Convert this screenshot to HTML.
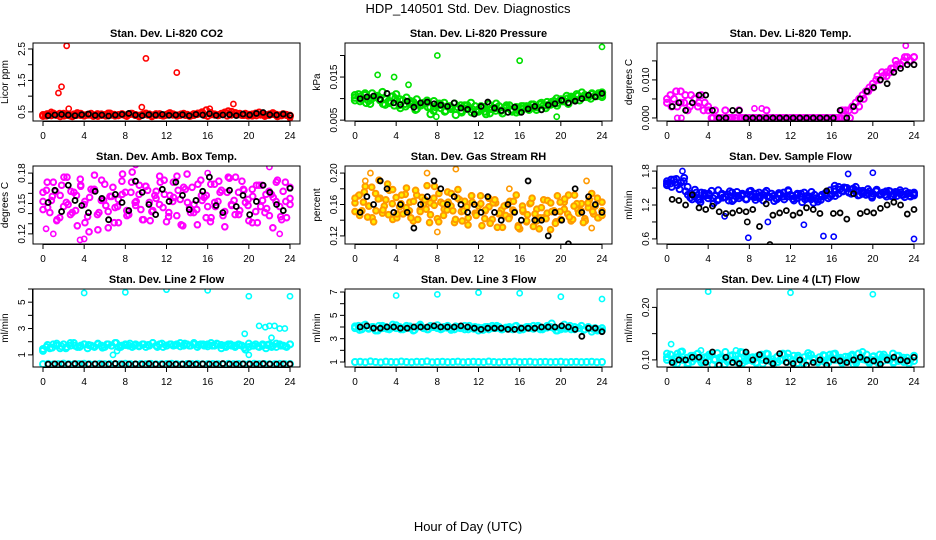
<!DOCTYPE html>
<html><head><meta charset="utf-8">
<style>
html,body{margin:0;padding:0;background:#fff;}
svg{display:block;font-family:"Liberation Sans",Arial,sans-serif;}
</style></head>
<body>
<svg id="chart" width="936" height="540" viewBox="0 0 936 540">
<text x="468" y="13" text-anchor="middle" font-size="13">HDP_140501  Std. Dev. Diagnostics</text>
<text x="468" y="531" text-anchor="middle" font-size="13">Hour of Day (UTC)</text>
</svg>
<script>
// ---- data arrays ----
const xTicks = [0,4,8,12,16,20,24];

const co2Cloud = [0.40,0.38,0.42,0.45,0.40,0.36,0.44,0.40,0.38,0.42,0.46,0.40,0.38,0.41,0.44,0.39,0.37,0.42,0.40,0.45,0.41,0.38,0.40,0.43,0.39,0.42,0.44,0.40,0.36,0.41,0.45,0.42,0.39,0.40,0.43,0.38,0.41,0.46,0.42,0.39,0.40,0.44,0.41,0.38,0.40,0.43,0.45,0.40,0.37,0.42,0.41,0.39,0.44,0.48,0.52,0.50,0.46,0.42,0.40,0.44,0.41,0.38,0.45,0.48,0.43,0.40,0.42,0.46,0.41,0.39,0.43,0.40,0.37];
const co2Cloud2 = [0.37,0.43,0.39,0.41,0.44,0.38,0.42,0.36,0.40,0.44,0.39,0.41,0.37,0.43,0.40,0.38,0.45,0.41,0.39,0.42,0.37,0.44,0.40,0.38,0.42,0.41,0.36,0.43,0.40,0.39,0.44,0.41,0.38,0.42,0.40,0.37,0.43,0.45,0.49,0.55,0.47,0.42,0.40,0.43,0.38,0.41,0.46,0.44,0.40,0.38,0.42,0.39,0.41,0.37,0.40,0.43,0.36,0.39,0.41,0.38];
const co2Black = [0.38,0.40,0.42,0.40,0.38,0.41,0.43,0.39,0.40,0.37,0.40,0.42,0.45,0.40,0.38,0.41,0.40,0.42,0.39,0.40,0.41,0.38,0.42,0.40,0.44,0.39,0.40,0.41,0.38,0.43,0.40,0.45,0.48,0.41,0.40,0.43,0.39];
const co2OutX = [2.3,1.5,1.8,2.5,10.0,13.0,9.6,18.5,16.2,0.8,0.2,24.0];
const co2OutY = [2.6,1.1,1.3,0.6,2.2,1.75,0.65,0.75,0.6,0.5,0.38,0.3];

const presCloud = [0.0102,0.0110,0.0098,0.0108,0.0095,0.0112,0.0104,0.0100,0.0115,0.0098,0.0090,0.0105,0.0110,0.0085,0.0096,0.0102,0.0088,0.0092,0.0098,0.0084,0.0090,0.0095,0.0080,0.0094,0.0086,0.0078,0.0090,0.0082,0.0076,0.0088,0.0080,0.0072,0.0084,0.0078,0.0068,0.0082,0.0075,0.0080,0.0070,0.0086,0.0076,0.0072,0.0082,0.0066,0.0078,0.0084,0.0074,0.0080,0.0070,0.0076,0.0082,0.0078,0.0086,0.0080,0.0088,0.0084,0.0092,0.0086,0.0094,0.0090,0.0098,0.0094,0.0100,0.0104,0.0098,0.0106,0.0102,0.0108,0.0104,0.0110,0.0106,0.0112,0.0108];
const presCloud2 = [0.0096,0.0104,0.0090,0.0100,0.0106,0.0088,0.0094,0.0084,0.0098,0.0082,0.0090,0.0076,0.0086,0.0080,0.0072,0.0088,0.0070,0.0082,0.0076,0.0068,0.0084,0.0074,0.0070,0.0080,0.0066,0.0078,0.0072,0.0084,0.0070,0.0076,0.0082,0.0074,0.0080,0.0086,0.0078,0.0090,0.0084,0.0094,0.0088,0.0098,0.0096,0.0104,0.0100,0.0108,0.0104];
const presCloud3 = [0.0108,0.0094,0.0112,0.0088,0.0104,0.0096,0.0086,0.0092,0.0100,0.0078,0.0088,0.0094,0.0074,0.0084,0.0090,0.0064,0.0080,0.0086,0.0072,0.0078,0.0062,0.0084,0.0076,0.0090,0.0070,0.0082,0.0064,0.0076,0.0088,0.0072,0.0080,0.0074,0.0068,0.0082,0.0078,0.0086,0.0074,0.0090,0.0084,0.0092,0.0100,0.0096,0.0106,0.0100,0.0110,0.0114,0.0104,0.0112,0.0106,0.0114];
const presBlack = [0.0100,0.0104,0.0106,0.0098,0.0112,0.0090,0.0086,0.0094,0.0080,0.0090,0.0092,0.0088,0.0085,0.0082,0.0090,0.0078,0.0075,0.0064,0.0082,0.0092,0.0078,0.0072,0.0068,0.0080,0.0068,0.0076,0.0082,0.0074,0.0085,0.0088,0.0096,0.0090,0.0094,0.0100,0.0108,0.0104,0.0112];
const presOutX = [8,16,24,2.2,3.8,5.2,7.9,19.6];
const presOutY = [0.0200,0.0188,0.0220,0.0155,0.0150,0.0132,0.0058,0.0058];

const tempCloud = [0.004,0.006,0.005,0.003,0.007,0.004,0.002,0.006,0.005,0.003,0.006,0.004,0.002,0,0.002,0,0,0.002,0,0,0,0.002,0,0,0,0,0,0,0,0.002,0,0,0,0,0,0,0,0,0,0,0,0,0,0,0,0,0,0,0,0,0,0.002,0.002,0.002,0.003,0.004,0.005,0.006,0.007,0.008,0.009,0.010,0.010,0.011,0.012,0.012,0.013,0.014,0.014,0.015,0.016,0.015,0.016];
const tempCloud2 = [0.005,0.003,0.007,0.004,0.006,0.003,0.005,0.004,0.002,0.003,0,0,0,0,0,0,0,0,0,0,0,0,0,0,0,0,0,0,0,0,0,0,0,0,0,0,0,0,0,0,0,0.002,0.003,0.005,0.007,0.008,0.011,0.012,0.011,0.013,0.015,0.014,0.016,0.015,0.016];
const tempBlack = [0.003,0.004,0.002,0.004,0.006,0.006,0.002,0,0,0.002,0.002,0,0,0,0,0,0,0,0,0,0,0,0,0,0,0.002,0,0.003,0.005,0.007,0.008,0.010,0.009,0.012,0.013,0.014,0.014];
const tempOutX = [1.0,1.4,8.5,9.2,23.2];
const tempOutY = [0,0,0.0025,0.0025,0.0190];

const ambCloud = [0.152,0.163,0.141,0.171,0.133,0.158,0.147,0.176,0.139,0.161,0.128,0.168,0.149,0.137,0.164,0.178,0.124,0.153,0.169,0.142,0.157,0.146,0.131,0.172,0.161,0.139,0.181,0.148,0.159,0.134,0.167,0.151,0.143,0.162,0.177,0.146,0.132,0.158,0.171,0.138,0.154,0.166,0.179,0.141,0.149,0.129,0.173,0.156,0.147,0.136,0.169,0.152,0.163,0.127,0.176,0.148,0.139,0.161,0.172,0.151,0.133,0.164,0.142,0.168,0.153,0.159,0.138,0.126,0.171,0.147,0.162,0.136,0.155];
const ambCloud2 = [0.144,0.171,0.153,0.162,0.136,0.176,0.149,0.141,0.158,0.167,0.152,0.122,0.163,0.139,0.173,0.148,0.157,0.131,0.154,0.179,0.143,0.161,0.151,0.168,0.134,0.163,0.142,0.155,0.171,0.159,0.137,0.152,0.177,0.129,0.164,0.146,0.141,0.169,0.153,0.158,0.132,0.151,0.172,0.138,0.161,0.149,0.176,0.143,0.163,0.154,0.131,0.168,0.147,0.141,0.162,0.156,0.173,0.134,0.152,0.166];
const ambCloud3 = [0.161,0.146,0.157,0.134,0.168,0.151,0.162,0.143,0.174,0.131,0.156,0.164,0.141,0.153,0.126,0.166,0.147,0.159,0.138,0.171,0.152,0.144,0.167,0.133,0.158,0.149,0.173,0.141,0.156,0.163,0.128,0.151,0.166,0.144,0.158,0.136,0.169,0.147,0.161,0.142,0.175,0.153,0.139,0.164,0.148,0.157,0.131,0.168,0.145,0.159,0.152,0.137,0.171,0.149];
const ambBlack = [0.151,0.163,0.142,0.168,0.153,0.148,0.141,0.162,0.155,0.134,0.159,0.151,0.143,0.172,0.161,0.149,0.139,0.164,0.152,0.171,0.158,0.144,0.153,0.162,0.176,0.148,0.141,0.163,0.147,0.158,0.139,0.152,0.168,0.161,0.149,0.143,0.165];
const ambOutX = [1,4,9,16,23,22,0.3,3.6];
const ambOutY = [0.12,0.115,0.188,0.18,0.12,0.186,0.125,0.114];

const rhCloud = [0.162,0.171,0.152,0.183,0.158,0.143,0.174,0.191,0.149,0.166,0.178,0.141,0.169,0.157,0.148,0.181,0.163,0.139,0.172,0.153,0.161,0.184,0.147,0.168,0.142,0.163,0.154,0.176,0.158,0.137,0.179,0.151,0.164,0.143,0.171,0.149,0.158,0.133,0.152,0.168,0.141,0.162,0.148,0.131,0.159,0.144,0.153,0.172,0.129,0.151,0.138,0.161,0.132,0.154,0.143,0.166,0.149,0.128,0.152,0.171,0.141,0.163,0.148,0.139,0.172,0.153,0.161,0.142,0.156,0.174,0.158,0.143,0.152];
const rhCloud2 = [0.151,0.172,0.163,0.144,0.182,0.152,0.168,0.158,0.147,0.179,0.143,0.161,0.173,0.152,0.164,0.141,0.169,0.154,0.162,0.183,0.138,0.161,0.153,0.174,0.141,0.166,0.152,0.134,0.163,0.149,0.171,0.142,0.157,0.162,0.131,0.153,0.146,0.164,0.151,0.133,0.158,0.139,0.162,0.148,0.129,0.143,0.165,0.151,0.138,0.163,0.154,0.172,0.141,0.161,0.152,0.139,0.166,0.148,0.143,0.163];
const rhCloud3 = [0.168,0.146,0.176,0.158,0.138,0.167,0.153,0.186,0.161,0.148,0.172,0.156,0.143,0.178,0.151,0.166,0.137,0.159,0.174,0.146,0.163,0.152,0.168,0.139,0.157,0.171,0.146,0.161,0.153,0.136,0.166,0.149,0.158,0.142,0.164,0.131,0.153,0.147,0.168,0.139,0.156,0.142,0.162,0.136,0.151,0.167,0.144,0.158,0.149,0.137,0.162,0.151,0.168,0.146];
const rhBlack = [0.15,0.17,0.16,0.19,0.18,0.15,0.16,0.15,0.13,0.16,0.17,0.19,0.18,0.16,0.17,0.16,0.15,0.16,0.15,0.17,0.15,0.14,0.16,0.15,0.14,0.19,0.14,0.14,0.12,0.15,0.14,0.11,0.18,0.15,0.17,0.16,0.15];
const rhOutX = [1.5,1.0,7.0,9.8,15.0,22.5,23.0,8.0];
const rhOutY = [0.200,0.190,0.200,0.205,0.180,0.190,0.130,0.125];

const flowCloud = [1.62,1.58,1.65,1.55,1.60,1.68,1.52,1.40,1.35,1.30,1.42,1.38,1.32,1.45,1.36,1.30,1.40,1.34,1.28,1.42,1.36,1.32,1.38,1.30,1.44,1.35,1.40,1.32,1.38,1.45,1.34,1.36,1.30,1.40,1.42,1.35,1.38,1.28,1.40,1.35,1.42,1.32,1.30,1.38,1.26,1.35,1.40,1.32,1.38,1.36,1.40,1.45,1.50,1.42,1.48,1.52,1.45,1.40,1.38,1.44,1.40,1.46,1.38,1.42,1.35,1.44,1.40,1.36,1.42,1.38,1.40,1.35,1.42];
const flowCloud2 = [1.55,1.65,1.60,1.48,1.62,1.38,1.30,1.42,1.25,1.36,1.40,1.32,1.28,1.38,1.34,1.44,1.30,1.36,1.40,1.30,1.38,1.34,1.42,1.28,1.36,1.40,1.32,1.38,1.30,1.44,1.36,1.32,1.40,1.30,1.35,1.24,1.30,1.38,1.42,1.35,1.48,1.52,1.44,1.50,1.40,1.45,1.38,1.42,1.48,1.36,1.44,1.40,1.38,1.45,1.35,1.42,1.38,1.44,1.36,1.40];
const flowCloud3 = [1.58,1.52,1.66,1.60,1.44,1.33,1.47,1.29,1.41,1.37,1.23,1.46,1.33,1.39,1.27,1.43,1.36,1.31,1.45,1.29,1.37,1.42,1.34,1.27,1.41,1.35,1.46,1.31,1.38,1.25,1.36,1.43,1.32,1.29,1.37,1.46,1.54,1.47,1.51,1.43,1.49,1.37,1.45,1.41,1.33,1.47,1.39,1.44,1.36,1.43,1.46,1.34,1.41,1.37];
const flowBlack = [1.30,1.28,1.20,1.38,1.15,1.12,1.18,1.08,1.05,1.06,1.10,1.08,1.12,0.82,1.22,1.02,1.06,1.10,1.02,1.06,1.15,1.12,1.05,1.45,1.05,1.06,0.95,1.40,1.05,1.08,1.06,1.14,1.20,1.25,1.20,1.04,1.12];
const flowOutX = [1.5,17.6,20.0,7.9,15.2,16.2,24.0,9.8,13.3,5.6,10.0,7.8];
const flowOutY = [1.80,1.75,1.77,0.62,0.65,0.64,0.60,0.90,0.85,1.00,0.50,0.90];
const flowOutC = ['b','b','b','b','b','b','b','b','b','b','k','k'];

const l2Cloud = [1.3,1.6,1.5,1.8,1.7,1.5,1.8,1.6,1.7,1.9,1.6,1.7,1.8,1.5,1.7,1.6,1.8,1.7,1.6,1.8,1.7,1.9,1.6,1.7,1.8,1.7,1.6,1.8,1.7,1.8,1.6,1.7,1.9,1.7,1.8,1.6,1.7,1.8,1.7,1.8,1.9,1.7,1.8,1.7,1.8,1.6,1.8,1.7,1.8,1.9,1.7,1.8,1.5,1.7,1.8,1.7,1.6,1.8,1.7,1.4,1.6,1.7,1.8,1.6,1.7,1.5,1.8,1.7,1.6,1.8,1.7,1.6,1.8];
const l2Cloud2 = [1.45,1.75,1.55,1.85,1.65,1.5,1.9,1.7,1.6,1.8,1.75,1.65,1.85,1.55,1.8,1.7,1.9,1.6,1.75,1.85,1.7,1.65,1.8,1.75,1.9,1.6,1.85,1.7,1.8,1.75,1.65,1.85,1.7,1.9,1.75,1.8,1.65,1.7,1.85,1.75,1.6,1.8,1.7,1.75,1.55,1.85,1.7,1.65,1.8,1.75,1.6,1.85,1.7,1.65,1.8];
const l2Low = [0.30,0.32,0.28,0.30,0.34,0.30,0.29,0.31,0.33,0.30,0.28,0.32,0.30,0.31,0.29,0.30,0.33,0.30,0.28,0.31,0.30,0.32,0.29,0.30,0.31,0.33,0.30,0.28,0.31,0.30,0.32,0.29,0.30,0.31,0.30,0.28,0.32,0.30,0.31,0.29,0.30,0.33,0.30,0.31,0.29,0.30,0.32,0.30,0.31];
const l2Black = [0.30,0.32,0.31,0.30,0.33,0.31,0.30,0.32,0.31,0.30,0.34,0.31,0.30,0.32,0.31,0.33,0.30,0.31,0.32,0.30,0.31,0.33,0.30,0.32,0.31,0.30,0.34,0.31,0.30,0.32,0.31,0.30,0.33,0.31,0.30,0.32,0.31];
const l2OutX = [4,8,12,16,20,24,19.6,21,21.6,22,22.5,23,23.5,22.2,20,6.8,7.2];
const l2OutY = [5.7,5.75,5.95,5.9,5.45,5.45,2.6,3.2,3.1,3.2,3.2,3.0,3.0,2.3,1.0,1.0,1.3];

const l3Cloud = [3.9,4.1,3.8,4.2,3.9,4.0,3.7,4.1,3.9,4.0,3.8,4.2,3.9,4.0,3.8,4.1,3.9,3.7,4.0,4.2,3.9,3.8,4.1,4.0,3.9,3.8,4.0,4.1,3.9,3.8,4.0,3.9,4.1,3.8,3.9,4.0,3.7,3.9,4.0,3.8,4.1,3.9,4.0,3.8,3.9,4.0,3.8,4.1,3.9,3.8,4.0,3.9,4.1,4.0,3.8,3.9,4.1,4.0,3.9,3.7,3.8,4.2,3.9,3.8,4.0,3.9,4.1,3.8,3.9,3.6,3.9,3.8,3.7];
const l3Cloud2 = [4.05,3.75,4.15,3.85,4.0,3.7,4.1,3.85,3.95,4.15,3.8,3.9,4.05,3.75,4.1,3.9,3.8,4.0,4.15,3.85,3.95,3.75,4.05,3.9,3.8,4.1,3.85,3.95,3.75,4.0,3.9,4.1,3.8,3.95,3.85,4.05,3.75,3.9,4.0,3.85,4.1,3.8,3.95,4.3,3.7,3.95,3.85,4.1,3.8,3.9,3.75,4.0,3.85,3.7,3.9];
const l3Low = [1.00,1.02,0.98,1.05,1.00,0.97,1.03,1.00,0.99,1.04,1.00,0.98,1.02,1.00,1.05,0.98,1.00,1.02,0.99,1.00,1.03,0.98,1.00,1.02,1.00,0.99,1.04,1.00,0.98,1.01,1.00,1.03,0.99,1.00,1.02,0.98,1.00,1.01,0.99,1.00,1.02,0.98,1.00,1.01,0.99,1.00,1.02,0.98,1.00];
const l3Black = [4.0,4.1,3.9,3.9,4.0,4.0,3.9,3.9,4.0,4.0,4.0,4.1,4.0,4.0,4.0,4.1,4.0,3.9,3.8,3.9,3.9,3.9,3.8,3.8,3.9,3.9,3.9,4.0,4.0,4.0,4.1,4.0,3.8,3.2,3.9,3.9,3.6];
const l3OutX = [4,8,12,16,20,24];
const l3OutY = [6.7,6.8,6.95,6.9,6.6,6.4];

const l4Cloud = [0.100,0.110,0.095,0.105,0.115,0.100,0.090,0.108,0.102,0.112,0.095,0.105,0.098,0.110,0.100,0.092,0.105,0.115,0.100,0.096,0.108,0.102,0.094,0.110,0.100,0.105,0.095,0.108,0.100,0.112,0.098,0.092,0.105,0.100,0.110,0.096,0.102,0.108,0.094,0.100,0.105,0.098,0.110,0.102,0.095,0.100,0.108,0.096,0.104,0.112,0.100,0.094,0.106,0.100,0.110,0.098,0.102,0.115,0.100,0.094,0.106,0.100,0.110,0.098,0.104,0.100,0.094,0.108,0.100,0.096,0.104,0.100,0.098];
const l4Cloud2 = [0.105,0.098,0.112,0.100,0.094,0.108,0.102,0.096,0.110,0.100,0.104,0.092,0.108,0.100,0.115,0.098,0.104,0.094,0.110,0.100,0.096,0.106,0.100,0.112,0.098,0.104,0.094,0.108,0.100,0.105,0.096,0.110,0.100,0.104,0.098,0.108,0.094,0.102,0.110,0.100,0.096,0.106,0.100,0.112,0.098,0.104,0.094,0.108];
const l4Cloud3 = [0.112,0.101,0.093,0.116,0.104,0.097,0.111,0.099,0.106,0.091,0.113,0.102,0.097,0.109,0.095,0.114,0.103,0.098,0.107,0.093,0.111,0.101,0.096,0.112,0.104,0.099,0.108,0.094,0.113,0.102,0.097,0.109,0.095,0.111,0.103,0.098,0.106,0.092,0.112,0.101,0.097,0.107,0.094,0.110,0.102,0.096,0.108,0.100,0.093,0.106];
const l4Black = [0.095,0.100,0.100,0.105,0.105,0.095,0.115,0.090,0.105,0.095,0.093,0.115,0.100,0.110,0.098,0.093,0.112,0.095,0.093,0.100,0.090,0.095,0.100,0.090,0.100,0.098,0.095,0.100,0.105,0.100,0.098,0.092,0.100,0.105,0.100,0.098,0.105];
const l4OutX = [4,12,20,0.4,3.3,6.7];
const l4OutY = [0.230,0.228,0.225,0.130,0.118,0.118];

// ---- panel layout ----
const colLeft = [33,345,657];
const rowTop = [43,166,289];
const W = 267, H = 78;
const NS = 'http://www.w3.org/2000/svg';
const svg = document.getElementById('chart');

const panels = [
 {name:'co2',title:'Stan. Dev. Li-820 CO2',ylab:'Licor ppm',ymin:0.21,ymax:2.69,ticks:[0.5,1,1.5,2,2.5],labels:['0.5','','1.5','','2.5'],color:'#ff0000',fill:'none',clouds:[co2Cloud,co2Cloud2],black:co2Black,ox:co2OutX,oy:co2OutY,r:3.0},
 {name:'pressure',title:'Stan. Dev. Li-820 Pressure',ylab:'kPa',ymin:0.0048,ymax:0.0229,ticks:[0.005,0.01,0.015,0.02],labels:['0.005','','0.015',''],color:'#00e000',fill:'none',clouds:[presCloud,presCloud2,presCloud3],black:presBlack,ox:presOutX,oy:presOutY,r:3.2},
 {name:'temp',title:'Stan. Dev. Li-820 Temp.',ylab:'degrees C',ymin:-0.0008,ymax:0.0197,ticks:[0,0.005,0.01,0.015],labels:['0.000','','0.010',''],color:'#ff00ff',fill:'none',clouds:[tempCloud,tempCloud2],black:tempBlack,ox:tempOutX,oy:tempOutY,r:3.0},
 {name:'amb-box',title:'Stan. Dev. Amb. Box Temp.',ylab:'degrees C',ymin:0.11,ymax:0.187,ticks:[0.12,0.13,0.14,0.15,0.16,0.17,0.18],labels:['0.12','','','0.15','','','0.18'],color:'#ff00ff',fill:'none',clouds:[ambCloud,ambCloud2,ambCloud3],black:ambBlack,ox:ambOutX,oy:ambOutY,r:2.8},
 {name:'gas-rh',title:'Stan. Dev. Gas Stream RH',ylab:'percent',ymin:0.1097,ymax:0.209,ticks:[0.12,0.14,0.16,0.18,0.2],labels:['0.12','','0.16','','0.20'],color:'#ff9900',fill:'#ffee00',clouds:[rhCloud,rhCloud2,rhCloud3],black:rhBlack,ox:rhOutX,oy:rhOutY,r:2.8},
 {name:'sample-flow',title:'Stan. Dev. Sample Flow',ylab:'ml/min',ymin:0.51,ymax:1.89,ticks:[0.6,0.9,1.2,1.5,1.8],labels:['0.6','','1.2','','1.8'],color:'#0000ff',fill:'none',clouds:[flowCloud,flowCloud2,flowCloud3],black:flowBlack,ox:flowOutX,oy:flowOutY,oc:flowOutC,r:3.0},
 {name:'line2-flow',title:'Stan. Dev. Line 2 Flow',ylab:'ml/min',ymin:0.08,ymax:6.0,ticks:[1,2,3,4,5,6],labels:['1','','3','','5',''],color:'#00ffff',fill:'none',clouds:[l2Cloud,l2Cloud2,l2Low],black:l2Black,ox:l2OutX,oy:l2OutY,r:3.0},
 {name:'line3-flow',title:'Stan. Dev. Line 3 Flow',ylab:'ml/min',ymin:0.57,ymax:7.26,ticks:[1,2,3,4,5,6,7],labels:['1','','3','','5','','7'],color:'#00ffff',fill:'none',clouds:[l3Cloud,l3Cloud2,l3Low],black:l3Black,ox:l3OutX,oy:l3OutY,r:3.0},
 {name:'line4-flow',title:'Stan. Dev. Line 4 (LT) Flow',ylab:'ml/min',ymin:0.0865,ymax:0.235,ticks:[0.1,0.15,0.2],labels:['0.10','','0.20'],color:'#00ffff',fill:'none',clouds:[l4Cloud,l4Cloud2,l4Cloud3],black:l4Black,ox:l4OutX,oy:l4OutY,r:3.0}
];

function mk(tag, attrs, parent){
  const e = document.createElementNS(NS, tag);
  for (const k in attrs) e.setAttribute(k, attrs[k]);
  (parent||svg).appendChild(e);
  return e;
}

panels.forEach((p, idx) => {
  const L = colLeft[idx % 3], T = rowTop[Math.floor(idx / 3)];
  const g = mk('g', {});
  
  
  const sx = h => L + 10 + h * 247 / 24;
  const sy = v => T + (p.ymax - v) / (p.ymax - p.ymin) * H;

  const t = mk('text', {x: L + W/2, y: T - 6, 'text-anchor':'middle', 'font-size':'11', 'font-weight':'bold'}, g);
  t.textContent = p.title;
  
  

  const yl = mk('text', {x: 0, y: 0, 'text-anchor':'middle', 'font-size':'10', transform:`translate(${L-25},${T+H/2}) rotate(-90)`}, g);
  yl.textContent = p.ylab;
  
  

  const clipId = 'clip' + idx;
  const cp = mk('clipPath', {id: clipId}, g);
  mk('rect', {x: L, y: T, width: W, height: H}, cp);
  const pts = mk('g', {'clip-path': `url(#${clipId})`}, g);
  
  

  p.clouds.forEach(arr => {
    arr.forEach((v, i) => {
      const c = mk('circle', {cx: sx(i * 24 / (arr.length - 1)), cy: sy(v), r: p.r, fill: p.fill, stroke: p.color, 'stroke-width': 2}, pts);
      
      
    });
  });
  p.ox.forEach((x, i) => {
    const col = (p.oc && p.oc[i] === 'k') ? '#000' : p.color;
    const c = mk('circle', {cx: sx(x), cy: sy(p.oy[i]), r: 2.6, fill: 'none', stroke: col, 'stroke-width': 1.6}, pts);
    
    
  });
  p.black.forEach((v, i) => {
    const c = mk('circle', {cx: sx(0.5 + i * 23.5 / (p.black.length - 1)), cy: sy(v), r: 2.5, fill: 'none', stroke: '#000', 'stroke-width': 1.8}, pts);
    
    
  });

  const box = mk('rect', {x: L, y: T, width: W, height: H, fill: 'none', stroke: '#000', 'stroke-width': 1}, g);
  
  

  const xa = mk('g', {}, g);
  
  
  mk('line', {x1: sx(xTicks[0]), x2: sx(xTicks[xTicks.length-1]), y1: T+H+0.5, y2: T+H+0.5, stroke:'#000'}, xa);
  xTicks.forEach(h => {
    mk('line', {x1: sx(h), x2: sx(h), y1: T+H, y2: T+H+5, stroke:'#000'}, xa);
    const tl = mk('text', {x: sx(h), y: T+H+18, 'text-anchor':'middle', 'font-size':'10'}, xa);
    tl.textContent = h;
    
    
  });

  const ya = mk('g', {}, g);
  
  
  mk('line', {x1: L-0.5, x2: L-0.5, y1: sy(p.ticks[0]), y2: sy(p.ticks[p.ticks.length-1]), stroke:'#000'}, ya);
  p.ticks.forEach((v, i) => {
    mk('line', {x1: L-5, x2: L, y1: sy(v), y2: sy(v), stroke:'#000'}, ya);
    if (p.labels[i]) {
      const tl = mk('text', {x: 0, y: 0, 'text-anchor':'middle', 'font-size':'10', transform:`translate(${L-8},${sy(v)}) rotate(-90)`}, ya);
      tl.textContent = p.labels[i];
      
      
    }
  });
});
</script>
</body></html>
